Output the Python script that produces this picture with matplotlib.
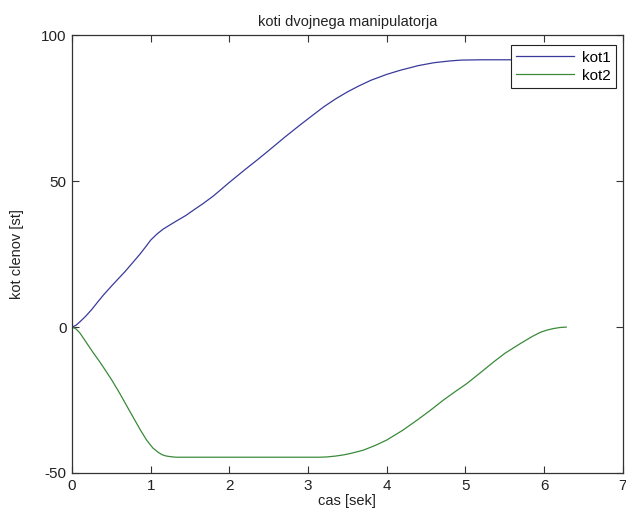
import matplotlib
matplotlib.use("Agg")
import matplotlib.pyplot as plt

# data
t_kot1 = [0, 0.05, 0.1, 0.17, 0.25, 0.33, 0.4, 0.5, 0.6, 0.67, 0.75, 0.87, 0.95,
          1.0, 1.08, 1.16, 1.25, 1.33, 1.45, 1.55, 1.67, 1.8, 2.0, 2.2, 2.35,
          2.5, 2.7, 2.9, 3.03, 3.2, 3.35, 3.5, 3.65, 3.8, 4.0, 4.17, 4.4, 4.6,
          4.8, 4.95, 5.2, 5.5, 6.0, 6.28]
kot1 = [0, 0.6, 1.8, 3.6, 6.0, 8.7, 11.0, 14.0, 16.9, 18.9, 21.4, 25.2, 28.0,
        29.8, 31.9, 33.6, 35.1, 36.4, 38.3, 40.2, 42.4, 45.0, 49.6, 54.0, 57.2,
        60.5, 65.0, 69.3, 72.0, 75.5, 78.2, 80.6, 82.7, 84.6, 86.6, 88.0, 89.6, 90.6,
        91.2, 91.5, 91.6, 91.6, 91.6, 91.6]

t_kot2 = [0, 0.05, 0.1, 0.14, 0.2, 0.27, 0.35, 0.4, 0.5, 0.6, 0.65, 0.75, 0.87,
          0.95, 1.03, 1.1, 1.15, 1.2, 1.25, 1.32, 1.4, 2.0, 3.0, 3.15, 3.24, 3.35,
          3.45, 3.54, 3.7, 3.85, 4.0, 4.2, 4.39, 4.55, 4.72, 4.87, 5.02, 5.2, 5.36,
          5.5, 5.7, 5.85, 5.95, 6.04, 6.12, 6.2, 6.28]
kot2 = [0, -0.6, -2.0, -3.6, -6.0, -8.8, -11.8, -13.8, -17.9, -22.4, -24.8, -29.6,
        -35.3, -38.8, -41.5, -43.0, -43.8, -44.2, -44.4, -44.6, -44.6, -44.6, -44.6,
        -44.6, -44.5, -44.2, -43.8, -43.3, -42.2, -40.6, -38.7, -35.4, -31.8, -28.6,
        -25.0, -22.1, -19.3, -15.4, -11.9, -9.0, -5.6, -3.2, -1.8, -1.0, -0.5, -0.15, 0]

labels = ["kot1", "kot2"]
xticks = [0, 1, 2, 3, 4, 5, 6, 7]
yticks = [-50, 0, 50, 100]

plt.rcParams['font.family'] = ['Liberation Sans', 'DejaVu Sans']
plt.rcParams['font.size'] = 10
plt.rcParams['axes.unicode_minus'] = False

fig = plt.figure(figsize=(6.26, 5.18), dpi=100)
ax = fig.add_axes([0.115, 0.0869, 0.88, 0.845])

ax.plot(t_kot1, kot1, color='#3a3a9c', lw=0.9, label=labels[0])
ax.plot(t_kot2, kot2, color='#3a8a3a', lw=0.9, label=labels[1])

ax.set_xlim(0, 7)
ax.set_ylim(-50, 100)
ax.set_xticks(xticks)
ax.set_yticks(yticks)
ax.tick_params(direction='in', top=True, right=True, length=5, width=0.8,
               colors='#333333', labelcolor='#222222', labelsize=11, pad=4)
for s in ax.spines.values():
    s.set_color('#333333')
    s.set_linewidth(0.9)

ax.set_title("koti dvojnega manipulatorja", fontsize=10.5, color='#222222', pad=7)
ax.set_xlabel("cas [sek]", fontsize=10.5, color='#222222', labelpad=1)
ax.set_ylabel("kot clenov [st]", fontsize=10.5, color='#222222', labelpad=12)

leg = ax.legend(loc='upper right', bbox_to_anchor=(0.987, 0.977), borderaxespad=0,
                fancybox=False, edgecolor='#222222', fontsize=11, handlelength=3.8,
                handletextpad=0.5, borderpad=0.35, labelspacing=0.25, framealpha=1)
leg.get_frame().set_linewidth(0.8)

fig.savefig("out.png", dpi=100)
